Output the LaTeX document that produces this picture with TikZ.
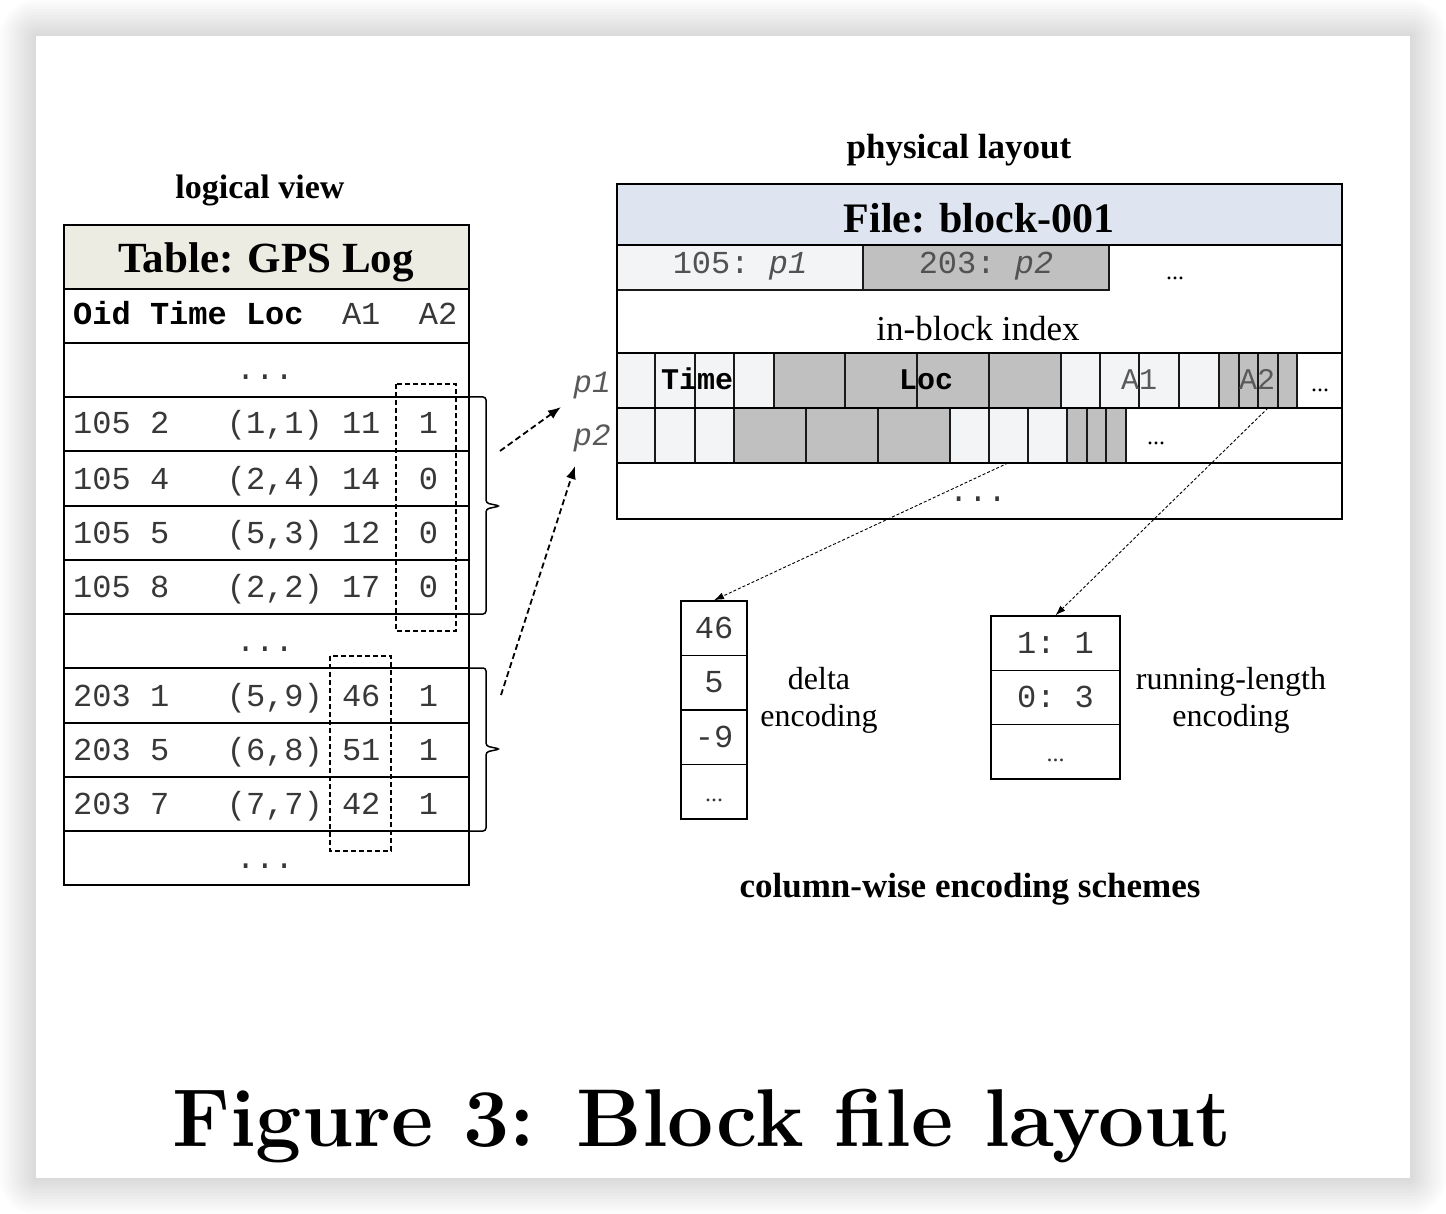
\documentclass[tikz,border=0pt]{standalone}
\usepackage{fontspec}
\newfontfamily\tnr{Liberation Serif}
\newfontfamily\cour{Liberation Mono}
\usetikzlibrary{arrows.meta}
\definecolor{hdrbeige}{HTML}{ECECE2}
\definecolor{hdrblue}{HTML}{DEE5F1}
\definecolor{lightc}{HTML}{F3F4F6}
\definecolor{grayc}{HTML}{C0C0C0}
\definecolor{ink}{HTML}{383838}
\newcommand\fs[1]{\fontsize{#1}{#1}\selectfont}
\newcommand\tabrow[7]{%
  \node[mono] (#1o) at (73,#2) {#3};
  \node[mono] (#1t) at (149.8,#2) {#4};
  \node[mono] (#1l) at (226.6,#2) {#5};
  \node[mono] (#1a) at (341.8,#2) {#6};
  \node[mono] (#1b) at (418.6,#2) {#7};}
\begin{document}
\begin{tikzpicture}[x=1pt,y=-1pt,
  tline/.style={line width=2pt},
  bline/.style={line width=1.5pt},
  cellbox/.style={line width=1.3pt, draw=black!90},
  mono/.style={font={\cour\fs{32}\frenchspacing}, text=ink, inner sep=0pt, anchor=base west},
  monob/.style={font={\cour\bfseries\fs{32}\frenchspacing}, text=black, inner sep=0pt, anchor=base west},
  ser/.style={font=\tnr\fs{32}, inner sep=0pt, anchor=base},
  serb/.style={font=\tnr\bfseries\fs{35}, inner sep=0pt, anchor=base},
  dashbox/.style={line width=1.2pt, dash pattern=on 5pt off 3pt},
  brace/.style={line width=1.5pt, rounded corners=3pt},
  maparrow/.style={line width=1.8pt, dash pattern=on 6pt off 3.5pt, -{Latex[length=13pt,width=10pt]}},
  encarrow/.style={line width=0.9pt, dash pattern=on 3pt off 2pt, -{Latex[length=10pt,width=7pt]}},
  enccell/.style={draw, line width=1.5pt, inner sep=0pt, font={\cour\fs{32}\frenchspacing}, text=ink, text height=20pt, text depth=0pt},
]
\useasboundingbox (0,0) rectangle (1446,1214);
% page shadow
\foreach \i [evaluate=\i as \d using \i*3] in {1,...,12}
  \fill[black, opacity=0.012, rounded corners=\d pt] (36-\d,36-\d) rectangle (1410+\d,1178+\d);
\fill[white] (36,36) rectangle (1410,1178);

% titles
\node[serb, font=\tnr\bfseries\fs{34}] (logv) at (260,199) {logical view};
\node[serb] (phys) at (959,159) {physical layout};

% ---------- logical table ----------
\fill[hdrbeige] (64,225) rectangle (469,289);
\node[serb, font=\tnr\bfseries\fs{43}] (ttitle) at (266,273) {Table: GPS Log};
\foreach \y in {289,343,397,451,506,560,614,668,723,777,831}
  \draw[tline] (64,\y) -- (469,\y);
\draw[tline] (64,225) rectangle (469,885);

\node[monob] (hOid) at (73,325) {Oid};
\node[monob] (hTime) at (149.8,325) {Time};
\node[monob] (hLoc) at (245.8,325) {Loc};
\node[mono] (hA1) at (341.8,325) {A1};
\node[mono] (hA2) at (418.6,325) {A2};

\node[mono, anchor=base] (dotsA) at (265,380) {...};
\tabrow{ra}{434}{105}{2}{(1,1)}{11}{1}
\tabrow{rb}{489}{105}{4}{(2,4)}{14}{0}
\tabrow{rc}{543}{105}{5}{(5,3)}{12}{0}
\tabrow{rd}{597}{105}{8}{(2,2)}{17}{0}
\node[mono, anchor=base] (dotsB) at (265,651) {...};
\tabrow{re}{706}{203}{1}{(5,9)}{46}{1}
\tabrow{rf}{760}{203}{5}{(6,8)}{51}{1}
\tabrow{rg}{814}{203}{7}{(7,7)}{42}{1}
\node[mono, anchor=base] (dotsC) at (265,868) {...};

\draw[dashbox] (396,384) rectangle (456,631);
\draw[dashbox] (330,656) rectangle (391,851);

\draw[brace] (469,397) -- (486,397) -- (486,503) -- (500,506) -- (486,509) -- (486,614) -- (469,614);
\draw[brace] (469,668) -- (486,668) -- (486,746) -- (500,749) -- (486,752) -- (486,831) -- (469,831);

% ---------- physical block ----------
\fill[hdrblue] (617,184) rectangle (1342,245);
\node[serb, font=\tnr\bfseries\fs{42}] (ftitle) at (979,233) {File: block-001};
\draw[cellbox, fill=lightc] (617,245) rectangle (863,290);
\draw[cellbox, fill=grayc] (863,245) rectangle (1109,290);
\node[mono, anchor=base, text=black!68] (ix1) at (740,274) {105: \textit{p1}};
\node[mono, anchor=base, text=black!68] (ix2) at (986,274) {203: \textit{p2}};
\node[ser, font=\tnr\fs{24}] (ixd) at (1175,280) {...};
\node[ser, font=\tnr\fs{35}] (ibi) at (978,341) {in-block index};

\foreach \a/\b/\c in {617/655/lightc, 655/695/lightc, 695/734/lightc, 734/774/lightc,
  774/845/grayc, 845/917/grayc, 917/989/grayc, 989/1061/grayc,
  1061/1100/lightc, 1100/1139/lightc, 1139/1179/lightc, 1179/1219/lightc,
  1219/1239/grayc, 1239/1258/grayc, 1258/1278/grayc, 1278/1297/grayc}
  \draw[cellbox, fill=\c] (\a,353) rectangle (\b,408);
\foreach \a/\b/\c in {617/655/lightc, 655/695/lightc, 695/734/lightc,
  734/806/grayc, 806/878/grayc, 878/950/grayc,
  950/989/lightc, 989/1028/lightc, 1028/1067/lightc,
  1067/1087/grayc, 1087/1106/grayc, 1106/1126/grayc}
  \draw[cellbox, fill=\c] (\a,408) rectangle (\b,463);
\foreach \y in {245,353,408,463}
  \draw[bline] (617,\y) -- (1342,\y);
\draw[bline] (617,184) rectangle (1342,519);

\node[monob, anchor=base, font=\cour\bfseries\fs{30}] (bTime) at (697,390) {Time};
\node[monob, anchor=base, font=\cour\bfseries\fs{30}] (bLoc) at (926,390) {Loc};
\node[mono, anchor=base, font=\cour\fs{30}, text=black!65] (bA1) at (1139,390) {A1};
\node[mono, anchor=base, font=\cour\fs{30}, text=black!65] (bA2) at (1257,390) {A2};
\node[ser, font=\tnr\fs{24}] (bdA) at (1320,392) {...};
\node[ser, font=\tnr\fs{24}] (bdB) at (1156,445) {...};
\node[mono, anchor=base] (bdC) at (978,501) {...};

\node[mono, anchor=base, font=\cour\fs{31}, text=black!65] (p1lab) at (592,393) {\textit{p1}};
\node[mono, anchor=base, font=\cour\fs{31}, text=black!65] (p2lab) at (592,446) {\textit{p2}};

% ---------- encodings ----------
\node[enccell, minimum width=66pt, minimum height=54.5pt] (d1) at (714,628.25) {46};
\node[enccell, minimum width=66pt, minimum height=54.5pt] (d2) at (714,682.75) {5};
\node[enccell, minimum width=66pt, minimum height=54.5pt] (d3) at (714,737.25) {-9};
\node[enccell, minimum width=66pt, minimum height=54.5pt, font=\tnr\fs{24}] (d4) at (714,791.75) {...};
\node[enccell, minimum width=129pt, minimum height=54.33pt] (r1) at (1055.5,643.2) {1: 1};
\node[enccell, minimum width=129pt, minimum height=54.33pt] (r2) at (1055.5,697.5) {0: 3};
\node[enccell, minimum width=129pt, minimum height=54.33pt, font=\tnr\fs{24}] (r3) at (1055.5,751.8) {...};

\node[ser] (dl1) at (819,689) {delta};
\node[ser] (dl2) at (819,726) {encoding};
\node[ser] (rl1) at (1231,689) {running-length};
\node[ser] (rl2) at (1231,726) {encoding};
\node[serb] (cws) at (970,897) {column-wise encoding schemes};

% ---------- connectors ----------
\coordinate (g1) at (500,451);
\coordinate (g1t) at (561,407);
\coordinate (g2) at (501,695);
\coordinate (g2t) at (575,466);
\draw[maparrow] (g1) -- (g1t);
\draw[maparrow] (g2) -- (g2t);
\coordinate (dsrc) at (1008,463);
\coordinate (rsrc) at (1268,408);
\draw[encarrow] (dsrc) -- (d1.north);
\draw[encarrow] (rsrc) -- (r1.north);

% caption
\node[anchor=base, font=\bfseries\fs{82}, inner sep=0pt] (cap) at (702,1146) {Figure 3: Block file layout};
\end{tikzpicture}
\end{document}
